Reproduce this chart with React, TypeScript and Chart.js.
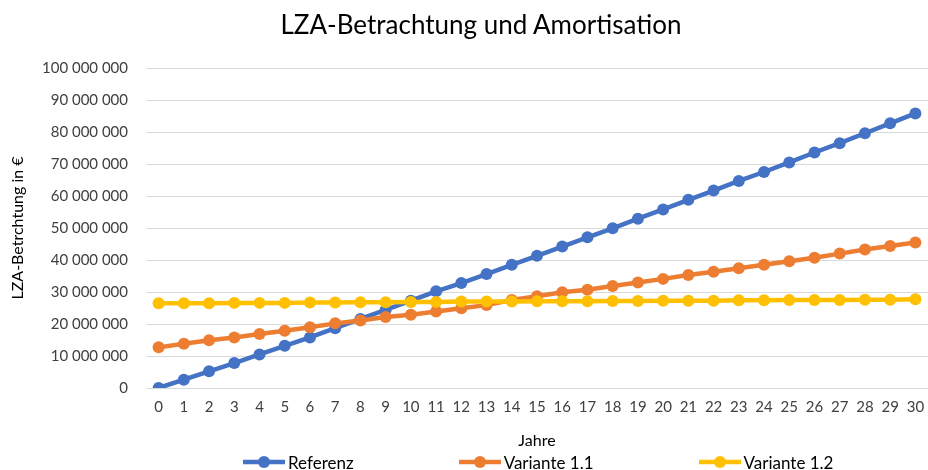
import React, { useEffect, useRef } from "react";
import { Chart, registerables } from "chart.js";

Chart.register(...registerables);

const title = "LZA-Betrachtung und Amortisation";
const yTitle = "LZA-Betrchtung in €";
const xTitle = "Jahre";

const years = [
  "0", "1", "2", "3", "4", "5", "6", "7", "8", "9", "10", "11", "12", "13", "14", "15",
  "16", "17", "18", "19", "20", "21", "22", "23", "24", "25", "26", "27", "28", "29", "30",
];

const referenz = [
  0, 2.6e6, 5.2e6, 7.8e6, 10.5e6, 13.2e6, 15.8e6, 18.7e6, 21.6e6, 24.4e6, 27.3e6,
  30.2e6, 32.8e6, 35.6e6, 38.5e6, 41.3e6, 44.2e6, 47.1e6, 49.9e6, 52.9e6, 55.8e6,
  58.8e6, 61.7e6, 64.7e6, 67.5e6, 70.5e6, 73.6e6, 76.5e6, 79.6e6, 82.7e6, 85.8e6,
];

const variante11 = [
  12.7e6, 13.8e6, 14.9e6, 15.8e6, 16.9e6, 17.9e6, 19.0e6, 20.2e6, 21.1e6, 22.2e6, 22.9e6,
  23.9e6, 24.9e6, 25.9e6, 27.5e6, 28.7e6, 29.9e6, 30.7e6, 31.9e6, 33.0e6, 34.1e6,
  35.3e6, 36.3e6, 37.4e6, 38.5e6, 39.6e6, 40.7e6, 42.0e6, 43.3e6, 44.4e6, 45.5e6,
];

const variante12 = [
  26.5e6, 26.5e6, 26.5e6, 26.6e6, 26.6e6, 26.6e6, 26.7e6, 26.7e6, 26.8e6, 26.8e6, 26.9e6,
  26.9e6, 27.0e6, 27.0e6, 27.0e6, 27.1e6, 27.1e6, 27.1e6, 27.2e6, 27.2e6, 27.3e6,
  27.3e6, 27.3e6, 27.4e6, 27.4e6, 27.5e6, 27.5e6, 27.5e6, 27.6e6, 27.6e6, 27.7e6,
];

const seriesNames = ["Referenz", "Variante 1.1", "Variante 1.2"];
const seriesColors = ["#4472C4", "#ED7D31", "#FFC000"];
const seriesData = [referenz, variante11, variante12];

const FONT = "Lato, 'Noto Sans', sans-serif";

function fmt(v: number): string {
  return Math.round(v)
    .toString()
    .replace(/\B(?=(\d{3})+(?!\d))/g, " ");
}

export default function App() {
  const canvasRef = useRef<HTMLCanvasElement | null>(null);

  useEffect(() => {
    if (!canvasRef.current) return;
    const chart = new Chart(canvasRef.current, {
      type: "line",
      data: {
        labels: years,
        datasets: seriesData.map((d, i) => ({
          label: seriesNames[i],
          data: d,
          borderColor: seriesColors[i],
          backgroundColor: seriesColors[i],
          borderWidth: 4.5,
          pointRadius: 6,
          pointHoverRadius: 6,
          pointBorderWidth: 0,
          tension: 0,
          order: 3 - i,
        })),
      },
      options: {
        animation: false,
        responsive: false,
        maintainAspectRatio: false,
        layout: { padding: { top: 68, left: 8, right: 0, bottom: 0 } },
        plugins: {
          legend: { display: false },
          title: { display: false },
          tooltip: { enabled: false },
        },
        scales: {
          x: {
            type: "category",
            offset: true,
            grid: { display: false, drawTicks: false },
            border: { display: true, color: "#D9D9D9", width: 1 },
            ticks: {
              color: "#404040",
              font: { family: FONT, size: 15 },
              padding: 10,
              maxRotation: 0,
              autoSkip: false,
            },
            title: {
              display: true,
              text: xTitle,
              color: "#000000",
              font: { family: FONT, size: 16 },
              padding: { top: 0, bottom: 20 },
            },
            afterFit: (scale: any) => {
              scale.height = 82;
              scale.paddingLeft = 0;
              scale.paddingRight = 0;
            },
          },
          y: {
            min: 0,
            max: 100000000,
            grid: { color: "#D9D9D9", lineWidth: 1, drawTicks: false },
            border: { display: false },
            ticks: {
              stepSize: 10000000,
              color: "#404040",
              font: { family: FONT, size: 15 },
              padding: 18,
              callback: (v: any) => fmt(Number(v)),
            },
            title: {
              display: true,
              text: yTitle,
              color: "#000000",
              font: { family: FONT, size: 16 },
              padding: { top: 0, bottom: 0 },
            },
            afterFit: (scale: any) => {
              scale.width = 138;
              scale.paddingTop = 0;
              scale.paddingBottom = 0;
            },
          },
        },
      },
    });
    return () => chart.destroy();
  }, []);

  return (
    <div
      style={{
        position: "absolute",
        left: 0,
        top: 0,
        width: 928,
        height: 470,
        overflow: "hidden",
        background: "#ffffff",
        fontFamily: FONT,
      }}
    >
      <canvas ref={canvasRef} width={934} height={470} style={{ position: "absolute", left: 0, top: 0 }} />
      <div
        style={{
          position: "absolute",
          left: 0,
          top: 9,
          width: 962,
          textAlign: "center",
          fontSize: 26,
          lineHeight: "30px",
          color: "#000000",
          whiteSpace: "nowrap",
        }}
      >
        {title}
      </div>
      <div
        style={{
          position: "absolute",
          left: 243,
          top: 452,
          height: 20,
          display: "flex",
          alignItems: "center",
          gap: 105,
          fontSize: 17,
          color: "#000000",
          whiteSpace: "nowrap",
        }}
      >
        {seriesNames.map((n, i) => (
          <div key={n} style={{ display: "flex", alignItems: "center" }}>
            <svg width={42} height={14} style={{ display: "block", marginRight: 3 }}>
              <line x1={0} y1={7} x2={42} y2={7} stroke={seriesColors[i]} strokeWidth={4.5} />
              <circle cx={21} cy={7} r={6} fill={seriesColors[i]} />
            </svg>
            <span>{n}</span>
          </div>
        ))}
      </div>
    </div>
  );
}
